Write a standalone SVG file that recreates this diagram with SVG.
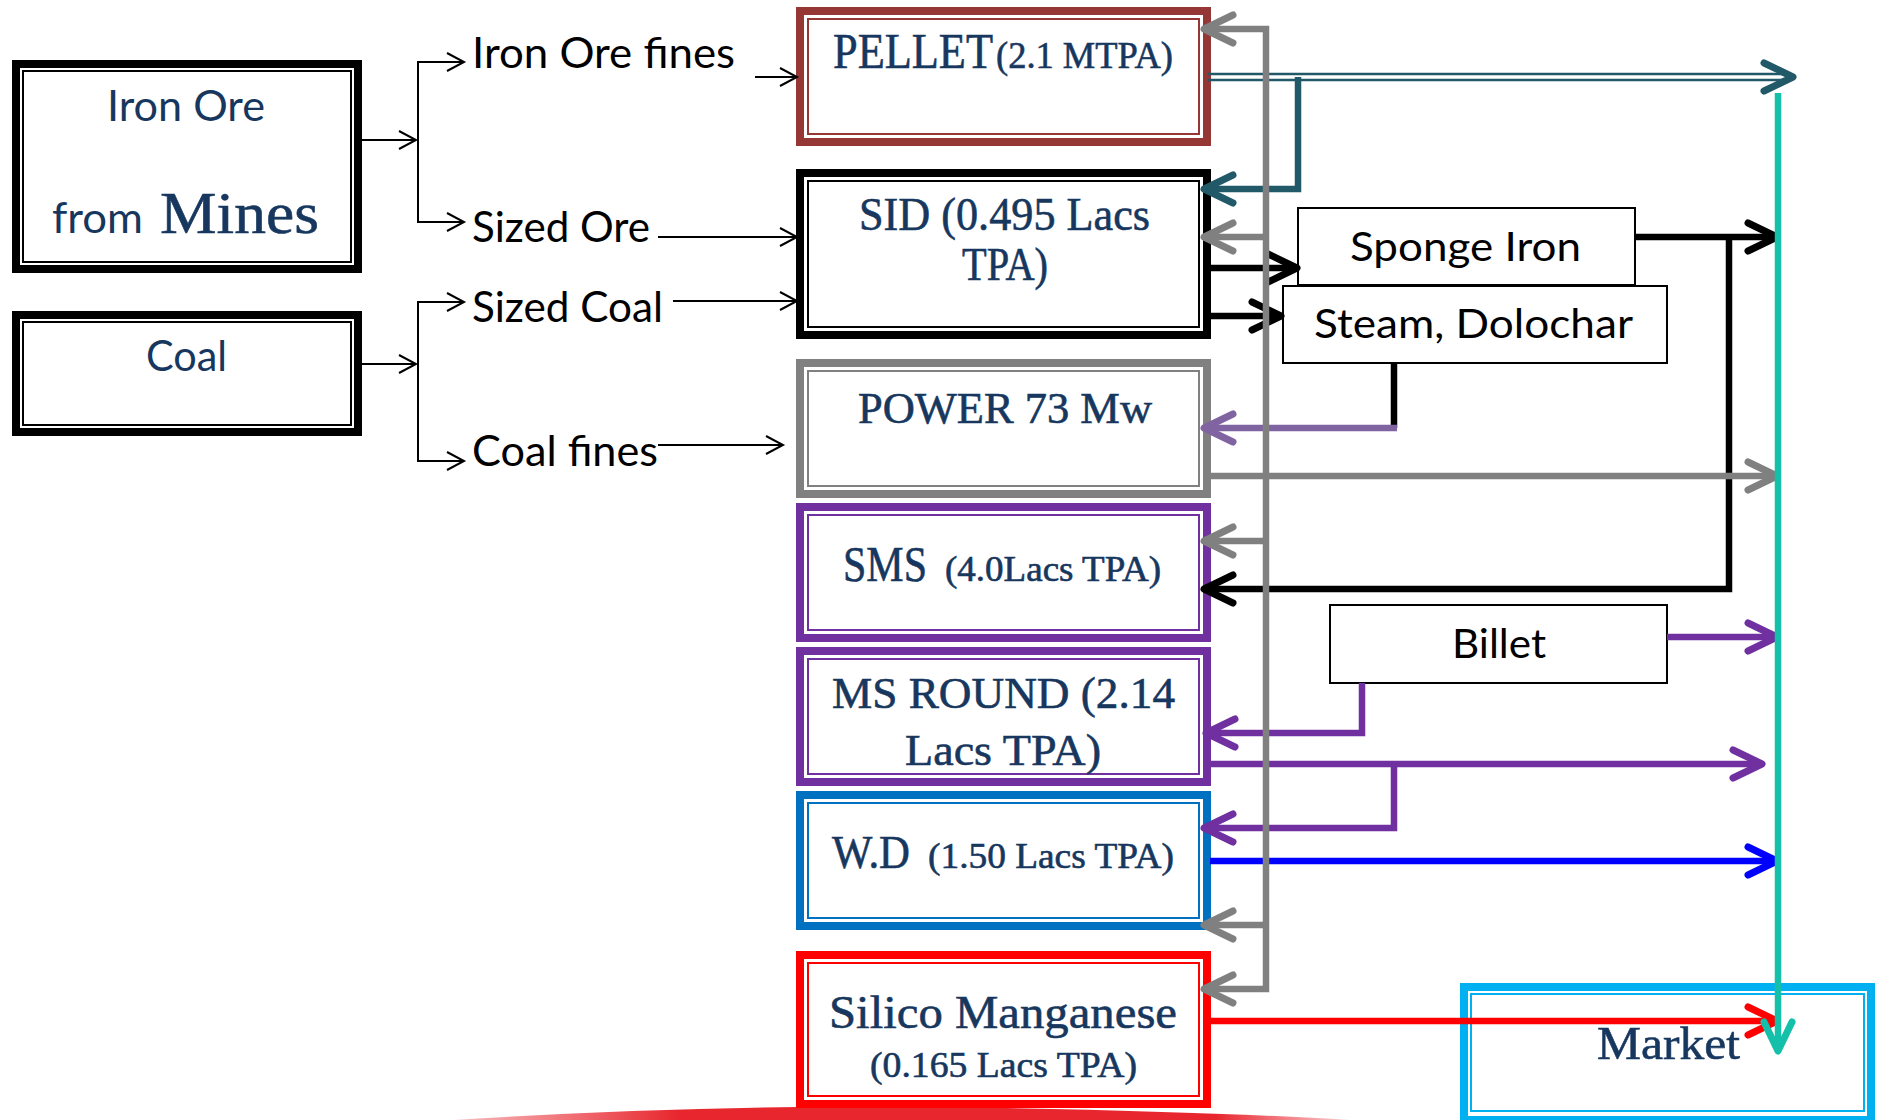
<svg xmlns="http://www.w3.org/2000/svg" width="1881" height="1120" viewBox="0 0 1881 1120">
<style>
.thick{fill:#fff;stroke-width:8}
.thin{fill:none;stroke-width:2}
.small{fill:#fff;stroke:#000;stroke-width:2}
.sans{font-family:Lato,"Liberation Sans",sans-serif}
.serif{font-family:"Liberation Serif",serif;stroke:#17375E;stroke-width:0.6}
.navy{fill:#17375E}
.blk{fill:#000}
.ln{fill:none;stroke-width:6.5}
.tl{fill:none;stroke:#000;stroke-width:2}
</style>
<defs>
<marker id="a-thin" markerUnits="userSpaceOnUse" viewBox="-20 -12 24 24" refX="0" refY="0" markerWidth="24" markerHeight="24" orient="auto" overflow="visible"><path d="M-17,-9 L0,0 L-17,9" fill="none" stroke="#000" stroke-width="2"/></marker>
<marker id="a-black" markerUnits="userSpaceOnUse" viewBox="-36 -20 40 40" refX="0" refY="0" markerWidth="40" markerHeight="40" orient="auto" overflow="visible"><path d="M-29,-14 L0,0 L-29,14" fill="none" stroke="#000" stroke-width="7" stroke-linecap="round" stroke-linejoin="round"/></marker>
<marker id="a-gray" markerUnits="userSpaceOnUse" viewBox="-36 -20 40 40" refX="0" refY="0" markerWidth="40" markerHeight="40" orient="auto" overflow="visible"><path d="M-29,-14 L0,0 L-29,14" fill="none" stroke="#808080" stroke-width="7" stroke-linecap="round" stroke-linejoin="round"/></marker>
<marker id="a-dteal" markerUnits="userSpaceOnUse" viewBox="-36 -20 40 40" refX="0" refY="0" markerWidth="40" markerHeight="40" orient="auto" overflow="visible"><path d="M-29,-14 L0,0 L-29,14" fill="none" stroke="#215968" stroke-width="7" stroke-linecap="round" stroke-linejoin="round"/></marker>
<marker id="a-lav" markerUnits="userSpaceOnUse" viewBox="-36 -20 40 40" refX="0" refY="0" markerWidth="40" markerHeight="40" orient="auto" overflow="visible"><path d="M-29,-14 L0,0 L-29,14" fill="none" stroke="#8064A2" stroke-width="7" stroke-linecap="round" stroke-linejoin="round"/></marker>
<marker id="a-purple" markerUnits="userSpaceOnUse" viewBox="-36 -20 40 40" refX="0" refY="0" markerWidth="40" markerHeight="40" orient="auto" overflow="visible"><path d="M-29,-14 L0,0 L-29,14" fill="none" stroke="#7030A0" stroke-width="7" stroke-linecap="round" stroke-linejoin="round"/></marker>
<marker id="a-blue" markerUnits="userSpaceOnUse" viewBox="-36 -20 40 40" refX="0" refY="0" markerWidth="40" markerHeight="40" orient="auto" overflow="visible"><path d="M-29,-14 L0,0 L-29,14" fill="none" stroke="#0000FF" stroke-width="7" stroke-linecap="round" stroke-linejoin="round"/></marker>
<marker id="a-red" markerUnits="userSpaceOnUse" viewBox="-36 -20 40 40" refX="0" refY="0" markerWidth="40" markerHeight="40" orient="auto" overflow="visible"><path d="M-29,-14 L0,0 L-29,14" fill="none" stroke="#FF0000" stroke-width="7" stroke-linecap="round" stroke-linejoin="round"/></marker>
<marker id="a-teal" markerUnits="userSpaceOnUse" viewBox="-36 -20 40 40" refX="0" refY="0" markerWidth="40" markerHeight="40" orient="auto" overflow="visible"><path d="M-29,-14 L0,0 L-29,14" fill="none" stroke="#14C0A9" stroke-width="7" stroke-linecap="round" stroke-linejoin="round"/></marker>
<linearGradient id="swoosh" x1="455" y1="0" x2="1350" y2="0" gradientUnits="userSpaceOnUse">
<stop offset="0" stop-color="#E8262E" stop-opacity="0.3"/>
<stop offset="0.25" stop-color="#E8262E"/>
<stop offset="0.85" stop-color="#E8262E"/>
<stop offset="1" stop-color="#E8262E" stop-opacity="0.2"/>
</linearGradient>
</defs>
<rect x="0" y="0" width="1881" height="1120" fill="#fff"/>
<path d="M455 1120 Q700 1104 950 1107 Q1200 1111 1350 1120 Z" fill="url(#swoosh)"/>

<g id="iron-ore">
<rect class="thick" x="16" y="64" width="342" height="205" stroke="#000"/>
<rect class="thin" x="23" y="71" width="328" height="191" stroke="#000"/>
<text class="sans navy" x="107" y="121" font-size="43" textLength="158" lengthAdjust="spacingAndGlyphs">Iron Ore</text>
<text class="sans navy" x="52" y="233" font-size="43" textLength="91" lengthAdjust="spacingAndGlyphs">from</text>
<text class="serif navy" x="160" y="233" font-size="60" textLength="159" lengthAdjust="spacingAndGlyphs">Mines</text>
</g>
<g id="coal">
<rect class="thick" x="16" y="315" width="342" height="117" stroke="#000"/>
<rect class="thin" x="23" y="322" width="328" height="103" stroke="#000"/>
<text class="sans navy" x="146" y="371" font-size="43" textLength="81" lengthAdjust="spacingAndGlyphs">Coal</text>
</g>
<g id="lbl-iron-ore-fines"><text class="sans blk" x="472" y="68" font-size="42" textLength="263" lengthAdjust="spacingAndGlyphs">Iron Ore fines</text></g>
<g id="lbl-sized-ore"><text class="sans blk" x="472" y="242" font-size="42" textLength="178" lengthAdjust="spacingAndGlyphs">Sized Ore</text></g>
<g id="lbl-sized-coal"><text class="sans blk" x="472" y="322" font-size="42" textLength="191" lengthAdjust="spacingAndGlyphs">Sized Coal</text></g>
<g id="lbl-coal-fines"><text class="sans blk" x="472" y="466" font-size="42" textLength="186" lengthAdjust="spacingAndGlyphs">Coal fines</text></g>

<g id="pellet">
<rect class="thick" x="800" y="11" width="407" height="131" stroke="#953735"/>
<rect class="thin" x="808" y="19" width="391" height="115" stroke="#953735"/>
<text class="serif navy" x="833" y="68" font-size="50" textLength="160" lengthAdjust="spacingAndGlyphs">PELLET</text>
<text class="serif navy" x="996" y="68" font-size="38" textLength="177" lengthAdjust="spacingAndGlyphs">(2.1 MTPA)</text>
</g>
<g id="sid">
<rect class="thick" x="800" y="173" width="407" height="162" stroke="#000"/>
<rect class="thin" x="808" y="181" width="391" height="146" stroke="#000"/>
<text class="serif navy" x="859" y="230" font-size="46" textLength="291" lengthAdjust="spacingAndGlyphs">SID (0.495 Lacs</text>
<text class="serif navy" x="962" y="280" font-size="46" textLength="86" lengthAdjust="spacingAndGlyphs">TPA)</text>
</g>
<g id="power">
<rect class="thick" x="800" y="363" width="407" height="131" stroke="#808080"/>
<rect class="thin" x="808" y="371" width="391" height="115" stroke="#808080"/>
<text class="serif navy" x="858" y="423" font-size="45" textLength="294" lengthAdjust="spacingAndGlyphs">POWER 73 Mw</text>
</g>
<g id="sms">
<rect class="thick" x="800" y="507" width="407" height="131" stroke="#7030A0"/>
<rect class="thin" x="808" y="515" width="391" height="115" stroke="#7030A0"/>
<text class="serif navy" x="843" y="581" font-size="50" textLength="84" lengthAdjust="spacingAndGlyphs">SMS</text>
<text class="serif navy" x="945" y="581" font-size="35" textLength="216" lengthAdjust="spacingAndGlyphs">(4.0Lacs TPA)</text>
</g>
<g id="ms-round">
<rect class="thick" x="800" y="651" width="407" height="131" stroke="#7030A0"/>
<rect class="thin" x="808" y="659" width="391" height="115" stroke="#7030A0"/>
<text class="serif navy" x="832" y="708" font-size="45" textLength="343" lengthAdjust="spacingAndGlyphs">MS ROUND (2.14</text>
<text class="serif navy" x="905" y="765" font-size="45" textLength="196" lengthAdjust="spacingAndGlyphs">Lacs TPA)</text>
</g>
<g id="wd">
<rect class="thick" x="800" y="795" width="407" height="131" stroke="#0070C0"/>
<rect class="thin" x="808" y="803" width="391" height="115" stroke="#0070C0"/>
<text class="serif navy" x="832" y="868" font-size="47" textLength="78" lengthAdjust="spacingAndGlyphs">W.D</text>
<text class="serif navy" x="928" y="868" font-size="36" textLength="246" lengthAdjust="spacingAndGlyphs">(1.50 Lacs TPA)</text>
</g>
<g id="silico">
<rect class="thick" x="800" y="955" width="407" height="149" stroke="#FF0000"/>
<rect class="thin" x="808" y="963" width="391" height="133" stroke="#FF0000"/>
<text class="serif navy" x="829" y="1028" font-size="47" textLength="348" lengthAdjust="spacingAndGlyphs">Silico Manganese</text>
<text class="serif navy" x="870" y="1077" font-size="36" textLength="267" lengthAdjust="spacingAndGlyphs">(0.165 Lacs TPA)</text>
</g>
<g id="market">
<rect class="thick" x="1464" y="987" width="407" height="133" stroke="#00B0F0"/>
<rect class="thin" x="1471" y="994" width="393" height="117" stroke="#00B0F0"/>
<text class="serif navy" x="1597" y="1059" font-size="47" textLength="143" lengthAdjust="spacingAndGlyphs">Market</text>
</g>
<g id="sponge-iron">
<rect class="small" x="1298" y="208" width="337" height="77"/>
<text class="sans blk" x="1350" y="261" font-size="41" textLength="231" lengthAdjust="spacingAndGlyphs">Sponge Iron</text>
</g>
<g id="steam-dolochar">
<rect class="small" x="1283" y="286" width="384" height="77"/>
<text class="sans blk" x="1314" y="338" font-size="41" textLength="319" lengthAdjust="spacingAndGlyphs">Steam, Dolochar</text>
</g>
<g id="billet">
<rect class="small" x="1330" y="605" width="337" height="78"/>
<text class="sans blk" x="1452" y="658" font-size="41" textLength="94" lengthAdjust="spacingAndGlyphs">Billet</text>
</g>

<g id="connectors">
<path class="tl" d="M362 140 H416" marker-end="url(#a-thin)"/>
<path class="tl" d="M418 140 V62 H464" marker-end="url(#a-thin)"/>
<path class="tl" d="M418 140 V222 H464" marker-end="url(#a-thin)"/>
<path class="tl" d="M362 364 H416" marker-end="url(#a-thin)"/>
<path class="tl" d="M418 364 V302 H464" marker-end="url(#a-thin)"/>
<path class="tl" d="M418 364 V461 H464" marker-end="url(#a-thin)"/>
<path class="tl" d="M755 77 H797" marker-end="url(#a-thin)"/>
<path class="tl" d="M658 237 H797" marker-end="url(#a-thin)"/>
<path class="tl" d="M673 301 H797" marker-end="url(#a-thin)"/>
<path class="tl" d="M658 445 H783" marker-end="url(#a-thin)"/>

<path d="M1208 74 H1790 M1208 80 H1790" fill="none" stroke="#215968" stroke-width="2.5"/>
<path d="M1764 63 L1793 77 L1764 91" fill="none" stroke="#215968" stroke-width="7" stroke-linecap="round" stroke-linejoin="round"/>
<path class="ln" d="M1298 77 V189 H1204" stroke="#215968" marker-end="url(#a-dteal)"/>

<path class="ln" d="M1208 268 H1297" stroke="#000" marker-end="url(#a-black)"/>
<path class="ln" d="M1208 316 H1281" stroke="#000" marker-end="url(#a-black)"/>
<path class="ln" d="M1635 237 H1777" stroke="#000" marker-end="url(#a-black)"/>
<path class="ln" d="M1729 237 V589 H1204" stroke="#000" marker-end="url(#a-black)"/>
<path class="ln" d="M1394 363 V428" stroke="#000"/>
<path class="ln" d="M1397 428 H1204" stroke="#8064A2" marker-end="url(#a-lav)"/>

<path class="ln" d="M1667 637 H1777" stroke="#7030A0" marker-end="url(#a-purple)"/>
<path class="ln" d="M1362 683 V733 H1206" stroke="#7030A0" marker-end="url(#a-purple)"/>
<path class="ln" d="M1208 764 H1762" stroke="#7030A0" marker-end="url(#a-purple)"/>
<path class="ln" d="M1394 764 V828 H1204" stroke="#7030A0" marker-end="url(#a-purple)"/>
<path class="ln" d="M1210 861 H1777" stroke="#0000FF" marker-end="url(#a-blue)"/>
<path class="ln" d="M1210 1021 H1777" stroke="#FF0000" marker-end="url(#a-red)"/>

<path class="ln" d="M1208 476 H1777" stroke="#808080" marker-end="url(#a-gray)"/>
<path class="ln" d="M1266 476 V29 H1204" stroke="#808080" marker-end="url(#a-gray)"/>
<path class="ln" d="M1266 476 V989 H1204" stroke="#808080" marker-end="url(#a-gray)"/>
<path class="ln" d="M1266 237 H1204" stroke="#808080" marker-end="url(#a-gray)"/>
<path class="ln" d="M1266 541 H1204" stroke="#808080" marker-end="url(#a-gray)"/>
<path class="ln" d="M1266 925 H1204" stroke="#808080" marker-end="url(#a-gray)"/>

<path class="ln" d="M1778 93 V1051" stroke="#14C0A9" marker-end="url(#a-teal)"/>
</g>
</svg>
